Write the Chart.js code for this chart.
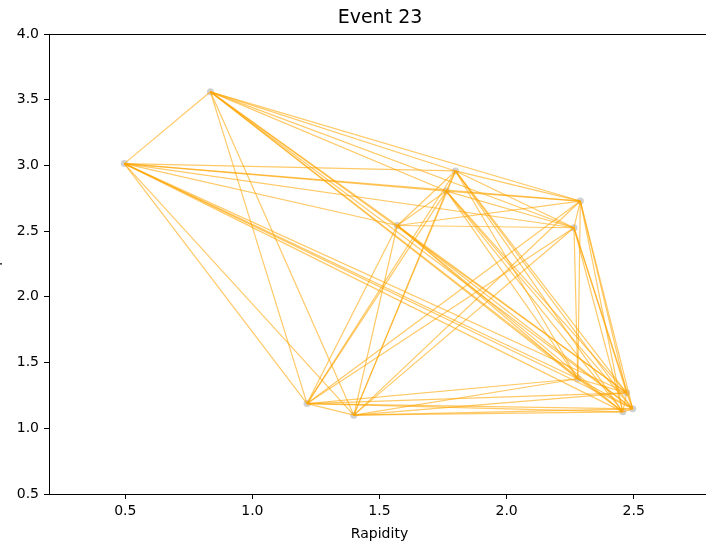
<!DOCTYPE html>
<html>
<head>
<meta charset="utf-8">
<script src="https://cdn.jsdelivr.net/npm/chart.js@4"></script>
<style>
    html, body { margin: 0; padding: 0; background: #fff; overflow: hidden; }
    #wrap { position: absolute; left: -20px; top: 0; width: 800px; height: 544px; }
</style>
</head>
<body>
<div id="wrap"><canvas id="grafico"></canvas></div>
<script>
// nós do evento (rapidez, phi)
const nodeX = [0.835, 0.496, 1.799, 1.763, 1.570, 2.290, 2.265, 2.280, 1.215, 1.399, 2.472, 2.457, 2.496];
const nodeY = [3.560, 3.014, 2.958, 2.805, 2.543, 2.729, 2.526, 1.377, 1.188, 1.100, 1.270, 1.125, 1.148];

const xTicks = [0.5, 1.0, 1.5, 2.0, 2.5];
const yTicks = [0.5, 1.0, 1.5, 2.0, 2.5, 3.0, 3.5, 4.0];

const COR_ARESTA = 'rgba(255, 165, 0, 0.6)';
const COR_NO = 'rgba(150, 150, 150, 0.45)';

// grafo completo: uma aresta por par de nós
const datasets = [];
for (let i = 0; i < nodeX.length; i++) {
    for (let j = i + 1; j < nodeX.length; j++) {
        datasets.push({
            data: [{ x: nodeX[i], y: nodeY[i] }, { x: nodeX[j], y: nodeY[j] }],
            showLine: true,
            borderColor: COR_ARESTA,
            borderWidth: 1.2,
            pointRadius: 0
        });
    }
}
datasets.push({
    data: nodeX.map((x, i) => ({ x, y: nodeY[i] })),
    showLine: false,
    backgroundColor: COR_NO,
    borderWidth: 0,
    pointRadius: 3.5
});

const moldura = {
    id: 'moldura',
    afterDraw(chart) {
        const { ctx, chartArea: a } = chart;
        ctx.save();
        ctx.strokeStyle = '#000';
        ctx.lineWidth = 1;
        ctx.strokeRect(Math.round(a.left) + 0.5, Math.round(a.top) + 0.5,
            Math.round(a.right - a.left), Math.round(a.bottom - a.top));
        ctx.restore();
    }
};

const fonte = { family: 'DejaVu Sans', size: 14 };

new Chart(document.getElementById('grafico'), {
    type: 'scatter',
    data: { datasets },
    plugins: [moldura],
    options: {
        responsive: true,
        maintainAspectRatio: false,
        animation: false,
        events: [],
        layout: { padding: 0 },
        plugins: {
            legend: { display: false },
            tooltip: { enabled: false },
            title: {
                display: true,
                text: 'Event 23',
                color: '#000',
                font: { family: 'DejaVu Sans', size: 19, weight: 'normal' },
                padding: { top: 7, bottom: 4.2 }
            }
        },
        scales: {
            x: {
                type: 'linear',
                min: 0.2,
                max: 2.8,
                afterBuildTicks: (s) => { s.ticks = xTicks.map(v => ({ value: v })); },
                afterFit: (s) => { s.height = 50; },
                border: { display: false },
                grid: { drawOnChartArea: false, drawTicks: true, tickLength: 5, color: '#000' },
                ticks: { color: '#000', font: fonte, padding: 4, maxRotation: 0,
                    callback: (v) => Number(v).toFixed(1) },
                title: { display: true, text: 'Rapidity', color: '#000', font: fonte,
                    padding: { top: 0, bottom: 1 } }
            },
            y: {
                type: 'linear',
                min: 0.5,
                max: 4.0,
                afterBuildTicks: (s) => { s.ticks = yTicks.map(v => ({ value: v })); },
                afterFit: (s) => { s.width = 69; },
                border: { display: false },
                grid: { drawOnChartArea: false, drawTicks: true, tickLength: 5, color: '#000' },
                ticks: { color: '#000', font: fonte, padding: 5,
                    callback: (v) => Number(v).toFixed(1) },
                title: { display: true, text: 'φ', color: '#000', font: fonte,
                    padding: { top: 7, bottom: 0 } }
            },
            // eixo vazio à direita, só para reservar espaço fora da janela
            direita: {
                type: 'linear',
                position: 'right',
                afterFit: (s) => { s.width = 70; },
                border: { display: false },
                grid: { display: false },
                ticks: { display: false }
            }
        }
    }
});
</script>
</body>
</html>
